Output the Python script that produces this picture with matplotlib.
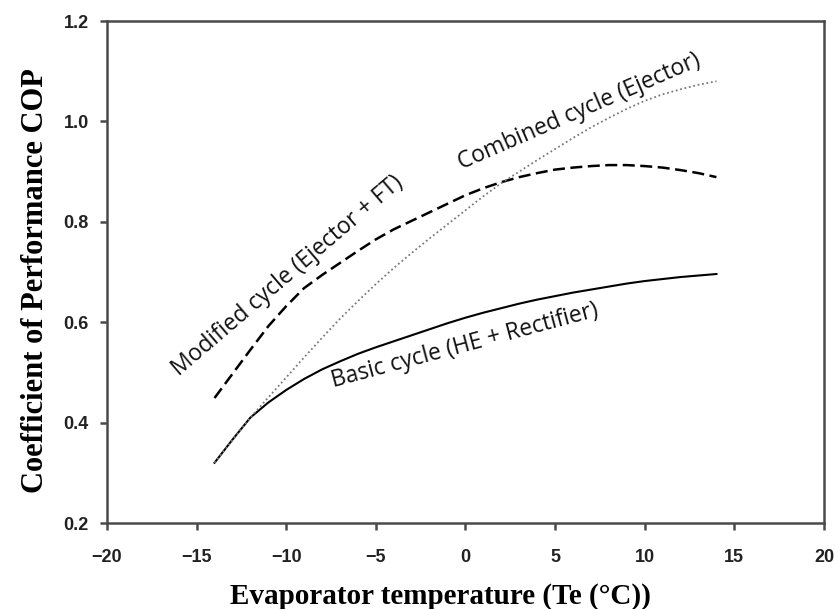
#!/usr/bin/env python3
"""
COP vs evaporator temperature for the three absorption cycle layouts.
"""

import matplotlib
matplotlib.use("Agg")
import matplotlib.pyplot as plt

# Evaporator temperature (deg C)
te = [-14, -13, -12, -11, -10, -9, -8, -7, -6, -5, -4, -3, -2, -1, 0,
      1, 2, 3, 4, 5, 6, 7, 8, 9, 10, 11, 12, 13, 14]

# COP per cycle
cop_basic = [0.32, 0.366, 0.41, 0.44, 0.465, 0.487, 0.506, 0.522, 0.537, 0.55,
             0.562, 0.574, 0.586, 0.598, 0.609, 0.619, 0.628, 0.637, 0.645,
             0.652, 0.659, 0.665, 0.671, 0.677, 0.682, 0.686, 0.69, 0.693, 0.696]
cop_modified = [0.449, 0.497, 0.545, 0.592, 0.632, 0.668, 0.694, 0.718, 0.742,
                0.765, 0.785, 0.802, 0.819, 0.836, 0.853, 0.867, 0.879, 0.889,
                0.897, 0.904, 0.908, 0.911, 0.913, 0.913, 0.911, 0.908, 0.903,
                0.897, 0.889]
cop_combined = [0.32, 0.365, 0.41, 0.45, 0.49, 0.53, 0.569, 0.607, 0.642, 0.676,
                0.708, 0.738, 0.767, 0.795, 0.823, 0.851, 0.877, 0.9, 0.923, 0.945,
                0.967, 0.988, 1.007, 1.025, 1.041, 1.054, 1.064, 1.073, 1.08]

x_ticks = [-20, -15, -10, -5, 0, 5, 10, 15, 20]
x_ticklabels = ["\u221220", "\u221215", "\u221210", "\u22125", "0", "5", "10", "15", "20"]
y_ticks = [0.2, 0.4, 0.6, 0.8, 1.0, 1.2]

fig = plt.figure(figsize=(8.35, 6.09), dpi=100)
ax = fig.add_axes([0.1281, 0.1412, 0.8587, 0.8243])

ax.plot(te, cop_basic, color="black", lw=1.5, ls="-")
ax.plot(te, cop_modified, color="black", lw=1.8, ls=(0, (4.8, 2.2)))
ax.plot(te, cop_combined, color="#7a7a7a", lw=1.3, ls=(0, (1, 1.5)))

ax.set_xlim(-20, 20)
ax.set_ylim(0.2, 1.2)
ax.set_xticks(x_ticks)
ax.set_xticklabels(x_ticklabels)
ax.set_yticks(y_ticks)
ax.set_yticklabels([f"{v:.1f}" for v in y_ticks])

for side in ax.spines.values():
    side.set_color("#4a4a4a")
    side.set_linewidth(1.8)
ax.tick_params(axis="both", direction="out", length=5, width=1.8, color="#4a4a4a",
               labelsize=13, labelcolor="#222222")
ax.tick_params(axis="x", pad=14)
ax.tick_params(axis="y", pad=8)
for lab in ax.get_xticklabels() + ax.get_yticklabels():
    lab.set_fontfamily("Liberation Sans")
    lab.set_fontweight("bold")

# axis titles placed directly on the figure
fig.text(0.527, 0.008, "Evaporator temperature (Te (\u00b0C))", family="Liberation Serif",
         fontweight="bold", fontsize=21, ha="center", va="baseline")
fig.text(0.0515, 0.539, "Coefficient of Performance COP", family="Liberation Serif",
         fontweight="bold", fontsize=22, ha="center", va="baseline",
         rotation=90, rotation_mode="anchor")

note = dict(family="Open Sans", fontsize=16.5, ha="center", va="center",
            rotation_mode="anchor", color="#111111")
ax.text(-9.9, 0.692, "Modified cycle (Ejector + FT)", rotation=40.5, **note)
ax.text(6.37, 1.019, "Combined cycle (Ejector)", rotation=23.5, **note)
ax.text(-0.06, 0.553, "Basic cycle (HE + Rectifier)", rotation=15, **note)

fig.savefig("out.png", dpi=100)
